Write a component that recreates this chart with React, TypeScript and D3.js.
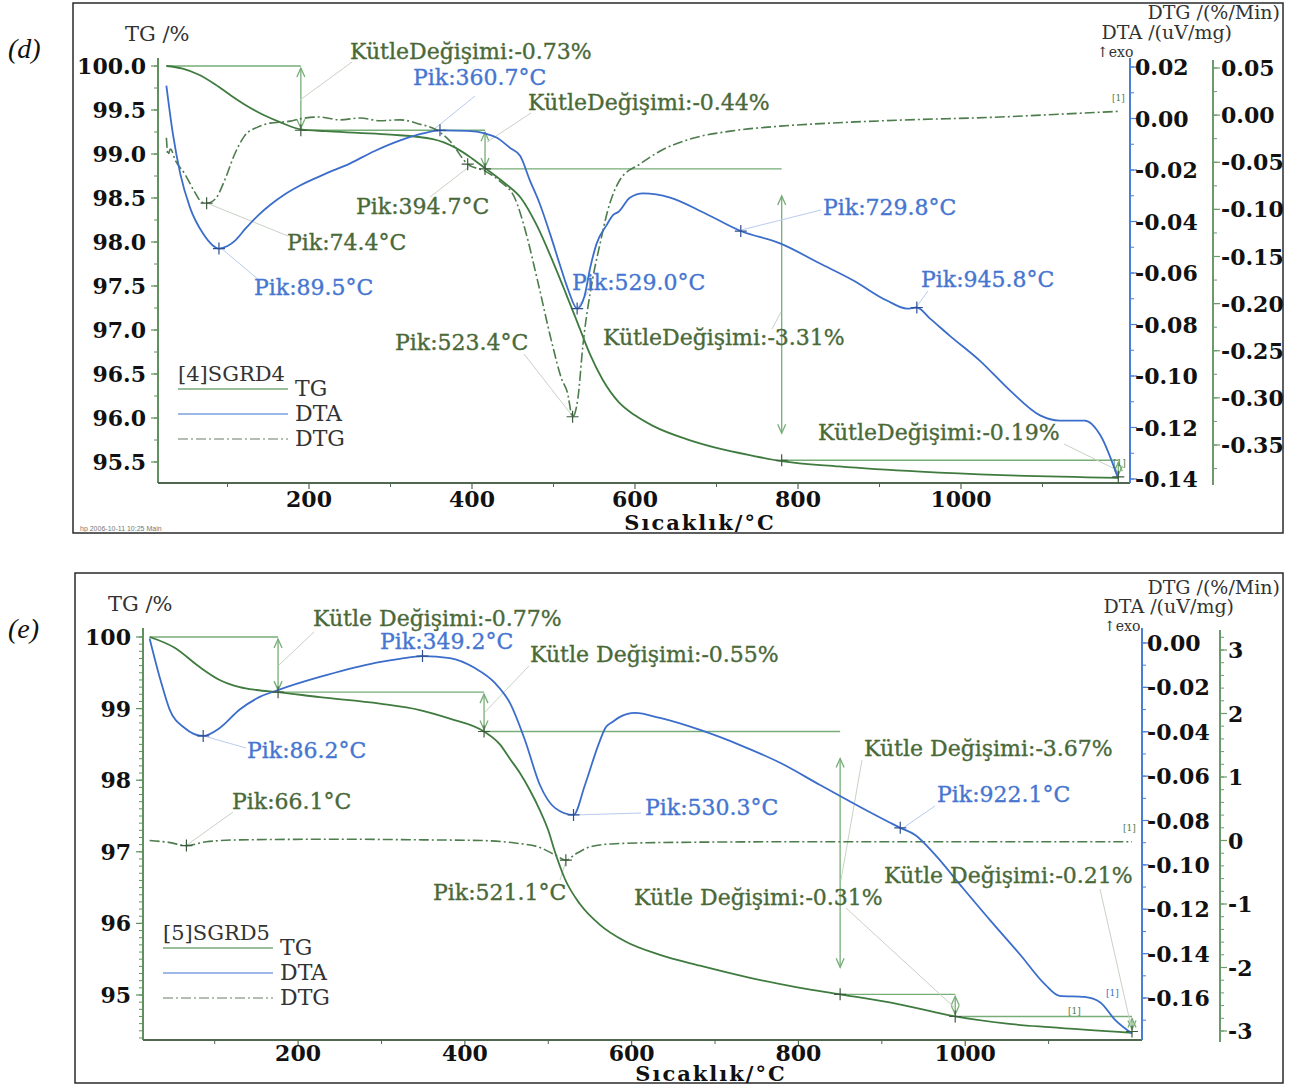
import React from 'react';
import * as d3 from 'd3';

type Pt = [number, number];

// ---------------- Sample SGRD4 (panel d) ----------------
const tgD: Pt[] = [
  [25, 100.0], [45, 99.97], [65, 99.9], [85, 99.79], [105, 99.66], [125, 99.54], [145, 99.44],
  [165, 99.36], [190, 99.28], [220, 99.26], [260, 99.24], [300, 99.22], [352, 99.17], [380, 99.07],
  [400, 98.95], [416, 98.84], [440, 98.67], [460, 98.5], [480, 98.18], [500, 97.76], [515, 97.42],
  [530, 97.07], [545, 96.72], [560, 96.44], [580, 96.18], [600, 96.03], [622, 95.91], [663, 95.76],
  [700, 95.66], [745, 95.57], [780, 95.51], [850, 95.45], [950, 95.39], [1050, 95.35], [1193, 95.32],
];
const dtaD: Pt[] = [
  [25, 0.0128], [33, -0.006], [42, -0.0214], [54, -0.0346], [70, -0.0447], [82, -0.0493], [89.5, -0.0505],
  [100, -0.0495], [110, -0.0472], [122, -0.0428], [137, -0.0378], [153, -0.0334], [170, -0.0295],
  [189, -0.026], [220, -0.0215], [250, -0.0175], [280, -0.0127], [312, -0.0085], [340, -0.0058],
  [360.7, -0.0046], [394, -0.0048], [416, -0.0058], [430, -0.0074], [447, -0.0115], [459, -0.0145],
  [471, -0.024], [483, -0.033], [496, -0.045], [508, -0.057], [518, -0.0665], [529, -0.0738],
  [538, -0.069], [545, -0.058], [553, -0.0485], [565, -0.0415], [573, -0.0375], [580, -0.0362],
  [594, -0.0307], [610, -0.0291], [626, -0.0295], [643, -0.0307], [684, -0.0365], [729.8, -0.0437],
  [778, -0.0485], [827, -0.0563], [868, -0.0629], [909, -0.0707], [934, -0.0738], [945.8, -0.0734],
  [962, -0.0777], [986, -0.0843], [1023, -0.094], [1060, -0.1056], [1097, -0.1153], [1121, -0.1173],
  [1152, -0.1173], [1171, -0.123], [1193, -0.14],
];
const dtgD: Pt[] = [
  [25, -0.024], [27, -0.042], [30, -0.036], [36, -0.048], [48, -0.063], [60, -0.082], [68, -0.092],
  [74.4, -0.0934], [85, -0.089], [97, -0.068], [109, -0.041], [121, -0.022], [137, -0.0127],
  [152, -0.0085], [177, -0.0064], [189, -0.004], [213, -0.002], [238, -0.005], [263, -0.003],
  [287, -0.006], [312, -0.005], [336, -0.0096], [355, -0.015], [373, -0.0276], [394.7, -0.052],
  [416, -0.0594], [434, -0.07], [453, -0.089], [465, -0.121], [480, -0.174], [499, -0.245],
  [510, -0.28], [517, -0.294], [523.4, -0.32], [530, -0.3], [536, -0.245], [548, -0.174],
  [557, -0.137], [566, -0.103], [582, -0.068], [606, -0.052], [631, -0.038], [667, -0.0255],
  [717, -0.017], [778, -0.0117], [839, -0.0085], [925, -0.0053], [1048, -0.002], [1121, 0.001],
  [1193, 0.004],
];
const peakTempsD = [74.4, 89.5, 360.7, 394.7, 523.4, 529.0, 729.8, 945.8];
const peakSeriesD = ['DTG', 'DTA', 'DTA', 'DTG', 'DTG', 'DTA', 'DTA', 'DTA'];
const massTempsD = [190, 416, 780, 1193];
const massChangesD = [-0.73, -0.44, -3.31, -0.19];

// ---------------- Sample SGRD5 (panel e) ----------------
const tgE: Pt[] = [
  [22, 100.0], [52, 99.85], [82, 99.58], [106, 99.4], [130, 99.3], [150, 99.26], [176, 99.23],
  [226, 99.16], [298, 99.07], [346, 98.98], [382, 98.86], [423, 98.68], [442, 98.5], [454, 98.3],
  [466, 98.1], [478, 97.86], [490, 97.58], [500, 97.3], [508, 97.0], [520, 96.62], [538, 96.27],
  [562, 95.98], [592, 95.75], [634, 95.56], [682, 95.41], [742, 95.24], [802, 95.1], [850, 95.01],
  [921, 94.87], [988, 94.7], [1050, 94.6], [1101, 94.55], [1200, 94.47],
];
const dtaE: Pt[] = [
  [22, 0.002], [35, -0.0167], [46, -0.03], [64, -0.0383], [86.2, -0.0419], [106, -0.0383],
  [130, -0.03], [154, -0.0243], [176, -0.0212], [226, -0.0153], [286, -0.0095], [322, -0.0072],
  [349.2, -0.0059], [382, -0.0068], [412, -0.0113], [436, -0.018], [454, -0.027], [472, -0.0437],
  [490, -0.064], [508, -0.0743], [530.3, -0.0775], [544, -0.064], [560, -0.046], [569, -0.038],
  [577, -0.0356], [586, -0.0333], [604, -0.0315], [634, -0.0338], [682, -0.0392], [730, -0.046],
  [778, -0.054], [826, -0.064], [874, -0.0739], [910, -0.081], [922.1, -0.0833], [940, -0.0865],
  [964, -0.0955], [994, -0.109], [1030, -0.125], [1066, -0.1405], [1096, -0.154], [1113, -0.159],
  [1143, -0.1595], [1162, -0.162], [1180, -0.17], [1200, -0.176],
];
const dtgE: Pt[] = [
  [22, 0.0], [45, -0.03], [66.1, -0.08], [90, -0.02], [130, 0.01], [250, 0.02], [350, 0.01],
  [420, 0.0], [460, -0.04], [490, -0.11], [510, -0.24], [521.1, -0.31], [532, -0.22], [550, -0.1],
  [580, -0.05], [650, -0.03], [800, -0.02], [1000, -0.02], [1200, -0.02],
];
const peakTempsE = [66.1, 86.2, 349.2, 521.1, 530.3, 922.1];
const peakSeriesE = ['DTG', 'DTA', 'DTA', 'DTG', 'DTA', 'DTA'];
const massTempsE = [176, 423, 850, 988, 1200];
const massChangesE = [-0.77, -0.55, -3.67, -0.31, -0.21];

// ---------------- Axis ticks ----------------
const tempTicks = [200, 400, 600, 800, 1000];
const tgTicksD = [100.0, 99.5, 99.0, 98.5, 98.0, 97.5, 97.0, 96.5, 96.0, 95.5];
const dtaTicksD = [0.02, 0.0, -0.02, -0.04, -0.06, -0.08, -0.1, -0.12, -0.14];
const dtgTicksD = [0.05, 0.0, -0.05, -0.1, -0.15, -0.2, -0.25, -0.3, -0.35];
const tgTicksE = [100, 99, 98, 97, 96, 95];
const dtaTicksE = [0.0, -0.02, -0.04, -0.06, -0.08, -0.1, -0.12, -0.14, -0.16];
const dtgTicksE = [3, 2, 1, 0, -1, -2, -3];

const FONT = '"DejaVu Serif", "Liberation Serif", serif';
const C_TG = '#3f7b3f';
const C_DTA = '#3b6dca';
const C_DTG = '#4d7c4d';
const C_GUIDE = '#77ad77';
const C_TXT_G = '#4a6939';
const C_TXT_B = '#4676d0';
const C_LEAD_G = '#c8d2c4';
const C_LEAD_B = '#b9cbee';

const fmt = (v: number, n: number) => (Math.abs(v) < 1e-9 ? 0 : v).toFixed(n);

function valueAt(points: Pt[], t: number) {
  for (let i = 1; i < points.length; i++) {
    if (t <= points[i][0]) {
      const [t0, v0] = points[i - 1];
      const [t1, v1] = points[i];
      return v0 + ((v1 - v0) * (t - t0)) / (t1 - t0);
    }
  }
  return points[points.length - 1][1];
}

type LabelPos = { x: number; y: number; lead: [number, number, number, number] | null };

interface PanelCfg {
  tag: string;
  tagPos: [number, number];
  frame: [number, number, number, number];
  xRange: [number, number];
  tgDomain: [number, number];
  tgRange: [number, number];
  dtaDomain: [number, number];
  dtaRange: [number, number];
  dtgDomain: [number, number];
  dtgRange: [number, number];
  left: number;
  right: number;
  top: number;
  bottom: number;
  dtgAxisX: number;
  tgDigits: number;
  dtaDigits: number;
  dtgDigits: number;
  tgMinorStep: number;
  dtaMinorStep: number;
  dtgMinorStep: number;
  massPrefix: string;
  massLabels: LabelPos[];
  peakLabels: LabelPos[];
  refMarks: { x: number; y: number; c: string }[];
  legendTitle: string;
  legendPos: [number, number];
  titles: { tg: [number, number]; dtg: [number, number]; dta: [number, number]; exo: [number, number] };
  xTitle: [number, number];
  xLabelDy: number;
  footnote: boolean;
}

const cfgD: PanelCfg = {
  tag: '(d)', tagPos: [8, 58], frame: [73, 3, 1210, 530],
  xRange: [146, 1124],
  tgDomain: [95.5, 100], tgRange: [462, 66],
  dtaDomain: [-0.14, 0.02], dtaRange: [479, 67],
  dtgDomain: [-0.35, 0.05], dtgRange: [445, 68],
  left: 158, right: 1130, top: 58, bottom: 483, dtgAxisX: 1213,
  tgDigits: 1, dtaDigits: 2, dtgDigits: 2,
  tgMinorStep: 0.25, dtaMinorStep: 0.01, dtgMinorStep: 0.025,
  massPrefix: 'KütleDeğişimi:',
  massLabels: [
    { x: 350, y: 59, lead: [352, 62, 300, 100] },
    { x: 528, y: 110, lead: [531, 113, 487, 142] },
    { x: 603, y: 345, lead: [772, 329, 781, 312] },
    { x: 818, y: 440, lead: [1064, 444, 1117, 470] },
  ],
  peakLabels: [
    { x: 287, y: 250, lead: [288, 236, 209, 204] },
    { x: 254, y: 295, lead: [259, 280, 222, 249] },
    { x: 413, y: 85, lead: [475, 96, 433, 130] },
    { x: 356, y: 214, lead: [430, 197, 470, 166] },
    { x: 395, y: 350, lead: [524, 354, 574, 418] },
    { x: 572, y: 290, lead: [578, 307, 588, 292] },
    { x: 823, y: 215, lead: [821, 210, 741, 230] },
    { x: 921, y: 287, lead: [928, 291, 917, 306] },
  ],
  refMarks: [
    { x: 1112, y: 101, c: C_DTG },
    { x: 1113, y: 466, c: C_DTG },
  ],
  legendTitle: '[4]SGRD4', legendPos: [178, 389],
  titles: { tg: [125, 41], dtg: [1280, 19], dta: [1232, 39], exo: [1097, 57] },
  xTitle: [700, 530],
  xLabelDy: 24,
  footnote: true,
};

const cfgE: PanelCfg = {
  tag: '(e)', tagPos: [8, 638], frame: [75, 573, 1208, 510],
  xRange: [131.3, 1132],
  tgDomain: [95, 100], tgRange: [995, 637],
  dtaDomain: [-0.16, 0], dtaRange: [998, 643],
  dtgDomain: [-3, 3], dtgRange: [1031, 650],
  left: 143, right: 1142, top: 628, bottom: 1040, dtgAxisX: 1220,
  tgDigits: 0, dtaDigits: 2, dtgDigits: 0,
  tgMinorStep: 0.1, dtaMinorStep: 0.01, dtgMinorStep: 0.2,
  massPrefix: 'Kütle Değişimi:',
  massLabels: [
    { x: 313, y: 626, lead: [314, 632, 279, 665] },
    { x: 530, y: 662, lead: [529, 666, 485, 712] },
    { x: 864, y: 756, lead: [862, 760, 841, 880] },
    { x: 634, y: 905, lead: [846, 908, 955, 1008] },
    { x: 884, y: 883, lead: [1100, 889, 1131, 1026] },
  ],
  peakLabels: [
    { x: 232, y: 809, lead: [233, 812, 187, 845] },
    { x: 247, y: 758, lead: [246, 748, 204, 736] },
    { x: 380, y: 649, lead: null },
    { x: 433, y: 900, lead: [560, 880, 566, 861] },
    { x: 645, y: 815, lead: [641, 813, 573, 815] },
    { x: 937, y: 802, lead: [935, 806, 903, 828] },
  ],
  refMarks: [
    { x: 1123, y: 831, c: C_DTG },
    { x: 1106, y: 996, c: C_DTA },
    { x: 1068, y: 1014, c: C_DTG },
  ],
  legendTitle: '[5]SGRD5', legendPos: [163, 948],
  titles: { tg: [108, 611], dtg: [1280, 594], dta: [1234, 613], exo: [1104, 631] },
  xTitle: [711, 1081],
  xLabelDy: 21,
  footnote: false,
};

function Panel(props: {
  cfg: PanelCfg; tg: Pt[]; dta: Pt[]; dtg: Pt[];
  peakTemps: number[]; peakSeries: string[];
  massTemps: number[]; massChanges: number[];
  tgTicks: number[]; dtaTicks: number[]; dtgTicks: number[];
}) {
  const { cfg, tg, dta, dtg, peakTemps, peakSeries, massTemps, massChanges } = props;
  const x = d3.scaleLinear().domain([0, 1200]).range(cfg.xRange);
  const yTG = d3.scaleLinear().domain(cfg.tgDomain).range(cfg.tgRange);
  const yDTA = d3.scaleLinear().domain(cfg.dtaDomain).range(cfg.dtaRange);
  const yDTG = d3.scaleLinear().domain(cfg.dtgDomain).range(cfg.dtgRange);

  const mk = (ys: d3.ScaleLinear<number, number>) =>
    d3.line<Pt>().x((d) => x(d[0])).y((d) => ys(d[1])).curve(d3.curveMonotoneX);

  // Mass-loss steps along the TG curve
  let level = 100;
  const steps = massChanges.map((c, i) => {
    const from = level;
    level = Math.round((level + c) * 100) / 100;
    return { t: massTemps[i], prevT: i === 0 ? tg[0][0] : massTemps[i - 1], from, to: level, change: c };
  });

  const cross = (cx: number, cy: number, color: string, key: string) => (
    <path key={key} d={`M${cx - 6},${cy}H${cx + 6}M${cx},${cy - 6}V${cy + 6}`} stroke={color} strokeWidth={1.2} />
  );

  const inRange = (v: number, dom: [number, number]) =>
    v >= Math.min(dom[0], dom[1]) - 1e-9 && v <= Math.max(dom[0], dom[1]) + 1e-9;

  const minorVals = (step: number, lo: number, hi: number) =>
    d3.range(Math.ceil(lo / step) - 1, Math.floor(hi / step) + 2)
      .map((k) => k * step)
      .filter((v) => v >= lo && v <= hi);

  // extents (data units) visible along each axis
  const tgLo = yTG.invert(cfg.bottom), tgHi = yTG.invert(cfg.top + 4);
  const dtaLo = yDTA.invert(cfg.bottom), dtaHi = yDTA.invert(cfg.top + 4);
  const dtgLo = yDTG.invert(cfg.bottom), dtgHi = yDTG.invert(cfg.top + 4);
  const tLo = x.invert(cfg.left), tHi = x.invert(cfg.right);

  const tickFont = { fontFamily: FONT, fontWeight: 700, fontSize: 22, fill: '#111' } as const;
  const annFont = { fontFamily: FONT, fontSize: 22, strokeWidth: 0.35 } as const;

  const [fx, fy, fw, fh] = cfg.frame;
  const [lx, ly] = cfg.legendPos;

  return (
    <g>
      <rect x={fx} y={fy} width={fw} height={fh} fill="#fff" stroke="#2a2a2a" strokeWidth={1.5} />
      <text x={cfg.tagPos[0]} y={cfg.tagPos[1]} fontFamily='"Liberation Serif", serif' fontStyle="italic" fontSize={28} fill="#111">
        {cfg.tag}
      </text>

      {/* axis titles */}
      <text x={cfg.titles.tg[0]} y={cfg.titles.tg[1]} fontFamily={FONT} fontSize={21} fill="#333">TG /%</text>
      <text x={cfg.titles.dtg[0]} y={cfg.titles.dtg[1]} fontFamily={FONT} fontSize={19} fill="#333" textAnchor="end">DTG /(%/Min)</text>
      <text x={cfg.titles.dta[0]} y={cfg.titles.dta[1]} fontFamily={FONT} fontSize={19} fill="#333" textAnchor="end">DTA /(uV/mg)</text>
      <text x={cfg.titles.exo[0]} y={cfg.titles.exo[1]} fontFamily={FONT} fontSize={14} fill="#333">↑exo</text>
      <text x={cfg.xTitle[0]} y={cfg.xTitle[1]} textAnchor="middle" {...tickFont} fontSize={21} letterSpacing={2}>Sıcaklık/°C</text>

      {/* TG axis (left) */}
      <line x1={cfg.left} x2={cfg.left} y1={cfg.top} y2={cfg.bottom} stroke="#5f915f" strokeWidth={2} />
      {minorVals(cfg.tgMinorStep, tgLo, tgHi).map((v, i) => (
        <line key={`tgm${i}`} x1={cfg.left - 4} x2={cfg.left} y1={yTG(v)} y2={yTG(v)} stroke="#5f915f" strokeWidth={1} />
      ))}
      {props.tgTicks.filter((v) => inRange(v, cfg.tgDomain)).map((v) => (
        <g key={`tg${v}`}>
          <line x1={cfg.left - 7} x2={cfg.left} y1={yTG(v)} y2={yTG(v)} stroke="#5f915f" strokeWidth={1.2} />
          <text x={cfg.left - 12} y={yTG(v) + 8} textAnchor="end" {...tickFont}>{fmt(v, cfg.tgDigits)}</text>
        </g>
      ))}

      {/* temperature axis */}
      <line x1={cfg.left} x2={cfg.right} y1={cfg.bottom} y2={cfg.bottom} stroke="#4f684f" strokeWidth={2} />
      {d3.range(100, 1200, 200).filter((t) => t >= tLo && t <= tHi).map((t) => (
        <line key={`xm${t}`} x1={x(t)} x2={x(t)} y1={cfg.bottom} y2={cfg.bottom + 4} stroke="#4f684f" strokeWidth={1} />
      ))}
      {tempTicks.map((t) => (
        <g key={`x${t}`}>
          <line x1={x(t)} x2={x(t)} y1={cfg.bottom} y2={cfg.bottom + 6} stroke="#4f684f" strokeWidth={1.2} />
          <text x={x(t)} y={cfg.bottom + cfg.xLabelDy} textAnchor="middle" {...tickFont}>{t}</text>
        </g>
      ))}

      {/* DTA axis */}
      <line x1={cfg.right} x2={cfg.right} y1={cfg.top} y2={cfg.bottom} stroke="#4a7fd6" strokeWidth={2} />
      {minorVals(cfg.dtaMinorStep, dtaLo, dtaHi).map((v, i) => (
        <line key={`dam${i}`} x1={cfg.right} x2={cfg.right + 4} y1={yDTA(v)} y2={yDTA(v)} stroke="#4a7fd6" strokeWidth={1} />
      ))}
      {props.dtaTicks.map((v) => (
        <g key={`da${v}`}>
          <line x1={cfg.right} x2={cfg.right + 7} y1={yDTA(v)} y2={yDTA(v)} stroke="#4a7fd6" strokeWidth={1.2} />
          <text x={cfg.right + 5} y={yDTA(v) + 8} {...tickFont}>{fmt(v, cfg.dtaDigits)}</text>
        </g>
      ))}

      {/* DTG axis */}
      <line x1={cfg.dtgAxisX} x2={cfg.dtgAxisX} y1={cfg.top + 2} y2={cfg.bottom + 2} stroke="#6c9a6c" strokeWidth={2} />
      {minorVals(cfg.dtgMinorStep, dtgLo, dtgHi).map((v, i) => (
        <line key={`dgm${i}`} x1={cfg.dtgAxisX} x2={cfg.dtgAxisX + 4} y1={yDTG(v)} y2={yDTG(v)} stroke="#6c9a6c" strokeWidth={1} />
      ))}
      {props.dtgTicks.map((v) => (
        <g key={`dg${v}`}>
          <line x1={cfg.dtgAxisX} x2={cfg.dtgAxisX + 7} y1={yDTG(v)} y2={yDTG(v)} stroke="#6c9a6c" strokeWidth={1.2} />
          <text x={cfg.dtgAxisX + 8} y={yDTG(v) + 8} {...tickFont}>{fmt(v, cfg.dtgDigits)}</text>
        </g>
      ))}

      {/* mass-step guides */}
      {steps.map((s, i) => {
        const xs = x(s.t);
        const y0 = yTG(s.from);
        const y1 = yTG(s.to);
        const len = Math.abs(y1 - y0);
        const inset = len > 100 ? 27 : 2;
        const a = y0 + inset;
        const b = y1 - inset;
        return (
          <g key={`st${i}`} stroke={C_GUIDE} fill="none" strokeWidth={1.3}>
            <line x1={x(s.prevT)} x2={xs} y1={y0} y2={y0} />
            <line x1={xs} x2={xs} y1={a} y2={b} />
            <path d={`M${xs - 4},${a + 9}L${xs},${a}L${xs + 4},${a + 9}`} />
            <path d={`M${xs - 4},${b - 9}L${xs},${b}L${xs + 4},${b - 9}`} />
          </g>
        );
      })}

      {/* leader lines */}
      {cfg.massLabels.map((p, i) => p.lead && (
        <line key={`ml${i}`} x1={p.lead[0]} y1={p.lead[1]} x2={p.lead[2]} y2={p.lead[3]} stroke={C_LEAD_G} strokeWidth={1} />
      ))}
      {cfg.peakLabels.map((p, i) => p.lead && (
        <line key={`pl${i}`} x1={p.lead[0]} y1={p.lead[1]} x2={p.lead[2]} y2={p.lead[3]}
          stroke={peakSeries[i] === 'DTA' ? C_LEAD_B : C_LEAD_G} strokeWidth={1} />
      ))}

      {/* curves */}
      <path d={mk(yTG)(tg) ?? ''} fill="none" stroke={C_TG} strokeWidth={1.8} />
      <path d={mk(yDTG)(dtg) ?? ''} fill="none" stroke={C_DTG} strokeWidth={1.6} strokeDasharray="10 3 2 3" />
      <path d={mk(yDTA)(dta) ?? ''} fill="none" stroke={C_DTA} strokeWidth={1.8} />

      {/* peak and step markers */}
      {peakTemps.map((t, i) => {
        const isDTA = peakSeries[i] === 'DTA';
        const v = valueAt(isDTA ? dta : dtg, t);
        return cross(x(t), isDTA ? yDTA(v) : yDTG(v), isDTA ? '#2f4f8f' : '#3c5a3c', `pk${i}`);
      })}
      {steps.map((s, i) => cross(x(s.t), yTG(s.to), '#3c5a3c', `sx${i}`))}

      {/* labels */}
      {cfg.massLabels.map((p, i) => (
        <text key={`mt${i}`} x={p.x} y={p.y} {...annFont} fill={C_TXT_G} stroke={C_TXT_G}>
          {`${cfg.massPrefix}${massChanges[i].toFixed(2)}%`}
        </text>
      ))}
      {cfg.peakLabels.map((p, i) => {
        const c = peakSeries[i] === 'DTA' ? C_TXT_B : C_TXT_G;
        return (
          <text key={`pt${i}`} x={p.x} y={p.y} {...annFont} fill={c} stroke={c}>
            {`Pik:${peakTemps[i].toFixed(1)}°C`}
          </text>
        );
      })}
      {cfg.refMarks.map((r, i) => (
        <text key={`rf${i}`} x={r.x} y={r.y} fontFamily={FONT} fontSize={9} fill={r.c}>[1]</text>
      ))}

      {/* legend */}
      <text x={lx} y={ly - 8} fontFamily={FONT} fontSize={21} fill="#333">{cfg.legendTitle}</text>
      {[
        { name: 'TG', c: '#79a879', dash: undefined },
        { name: 'DTA', c: '#7b9fe0', dash: undefined },
        { name: 'DTG', c: '#9aa89a', dash: '10 3 2 3' },
      ].map((l, i) => (
        <g key={l.name}>
          <line x1={lx} x2={lx + 110} y1={ly + i * 25} y2={ly + i * 25} stroke={l.c} strokeWidth={1.5} strokeDasharray={l.dash} />
          <text x={lx + 117} y={ly + i * 25 + 7} fontFamily={FONT} fontSize={22} fill="#333">{l.name}</text>
        </g>
      ))}

      {cfg.footnote && (
        <text x={80} y={531} fontFamily="Arial, sans-serif" fontSize={7} fill="#777">hp   2006-10-11 10:25   Main</text>
      )}
    </g>
  );
}

export default function App() {
  return (
    <svg width={1294} height={1086} style={{ position: 'absolute', left: 0, top: 0, background: '#fff' }}>
      <rect width={1294} height={1086} fill="#fff" />
      <Panel cfg={cfgD} tg={tgD} dta={dtaD} dtg={dtgD} peakTemps={peakTempsD} peakSeries={peakSeriesD}
        massTemps={massTempsD} massChanges={massChangesD}
        tgTicks={tgTicksD} dtaTicks={dtaTicksD} dtgTicks={dtgTicksD} />
      <Panel cfg={cfgE} tg={tgE} dta={dtaE} dtg={dtgE} peakTemps={peakTempsE} peakSeries={peakSeriesE}
        massTemps={massTempsE} massChanges={massChangesE}
        tgTicks={tgTicksE} dtaTicks={dtaTicksE} dtgTicks={dtgTicksE} />
    </svg>
  );
}
